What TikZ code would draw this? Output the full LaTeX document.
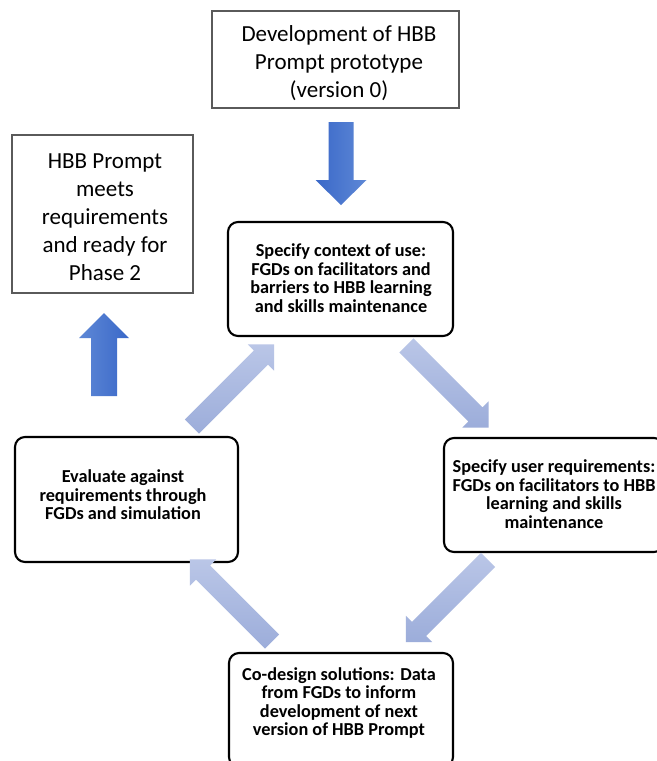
\documentclass[tikz,border=0pt]{standalone}
\usepackage{fontspec}
\setmainfont{Carlito}
\definecolor{bluedark}{HTML}{3A68C8}
\definecolor{bluelight}{HTML}{5E88D6}
\definecolor{paletop}{HTML}{BAC6E7}
\definecolor{palebot}{HTML}{9CADDA}
\definecolor{graybd}{HTML}{5A5A5A}
\tikzset{
  plainbox/.style={draw=graybd, line width=0.9pt, inner sep=0pt},
  roundbox/.style={draw=black, line width=1.6pt, rounded corners=7.5pt, inner sep=0pt},
  bsize/.style 2 args={minimum width=#1*0.75pt, minimum height=#2*0.75pt},
  plaintext/.style={align=center, font=\fontsize{17.25pt}{21pt}\selectfont, inner sep=0pt},
  boldtext/.style={align=center, font=\fontsize{13.7pt}{13.9pt}\selectfont\bfseries, inner sep=0pt},
}
% block arrow: name, centre, canvas angle, length, shaft width, head width, head length, shading
\newcommand\blockarrow[8]{%
  \begin{scope}[shift={#2}, rotate=#3]
    \coordinate (#1-1) at ({-#4/2},{-#5/2});
    \coordinate (#1-2) at ({#4/2-#7},{-#5/2});
    \coordinate (#1-3) at ({#4/2-#7},{-#6/2});
    \coordinate (#1-4) at ({#4/2},0);
    \coordinate (#1-5) at ({#4/2-#7},{#6/2});
    \coordinate (#1-6) at ({#4/2-#7},{#5/2});
    \coordinate (#1-7) at ({-#4/2},{#5/2});
  \end{scope}
  \shade[#8] (#1-1) -- (#1-2) -- (#1-3) -- (#1-4) -- (#1-5) -- (#1-6) -- (#1-7) -- cycle;
}
\begin{document}
\begin{tikzpicture}[x=0.75pt, y=-0.75pt]
  \useasboundingbox (0,0) rectangle (657,761);
  \fill[white] (0,0) rectangle (657,761);
  \clip (0,0) rectangle (657,761);

  % boxes
  \node[plainbox, bsize={247}{97}] (dev) at (335.5,59.5) {};
  \node[plaintext] (devT) at (339,63) {Development of HBB\\Prompt prototype\\(version 0)};

  \node[plainbox, bsize={181}{158}] (done) at (102.5,214) {};
  \node[plaintext] (doneT) at (105,217) {HBB Prompt\\meets\\requirements\\and ready for\\Phase 2};

  \node[roundbox, bsize={225}{114}] (ctx) at (340.5,279) {};
  \node[boldtext] (ctxT) at (341,278) {Specify context of use:\\FGDs on facilitators and\\barriers to HBB learning\\and skills maintenance};

  \node[roundbox, bsize={220}{114}] (req) at (554,495) {};
  \node[boldtext] (reqT) at (554,494) {Specify user requirements:\\FGDs on facilitators to HBB\\learning and skills\\maintenance};

  \node[roundbox, bsize={223}{125}] (eval) at (126.5,499.5) {};
  \node[boldtext] (evalT) at (123,495) {Evaluate against\\requirements through\\FGDs and simulation};

  \node[roundbox, bsize={224}{114}] (code) at (341,710) {};
  \node[boldtext] (codeT) at (339,703) {Co-design solutions: Data\\from FGDs to inform\\development of next\\version of HBB Prompt};

  % arrows
  \blockarrow{aTop}{(341,163.5)}{-90}{83}{25}{51}{25}{left color=bluedark, right color=bluelight}
  \blockarrow{aLeft}{(104,354.5)}{90}{83}{26}{50}{25}{left color=bluelight, right color=bluedark}
  \blockarrow{aDR}{(447.5,386.5)}{-45}{116}{20}{37}{18.5}{top color=paletop, bottom color=palebot}
  \blockarrow{aDL}{(447,601)}{-135}{116}{20}{37}{18.5}{top color=paletop, bottom color=palebot}
  \blockarrow{aUL}{(231,600.5)}{135}{116}{20}{37}{18.5}{top color=paletop, bottom color=palebot}
  \blockarrow{aUR}{(233,385.5)}{45}{116}{20}{37}{18.5}{top color=paletop, bottom color=palebot}
\end{tikzpicture}
\end{document}
